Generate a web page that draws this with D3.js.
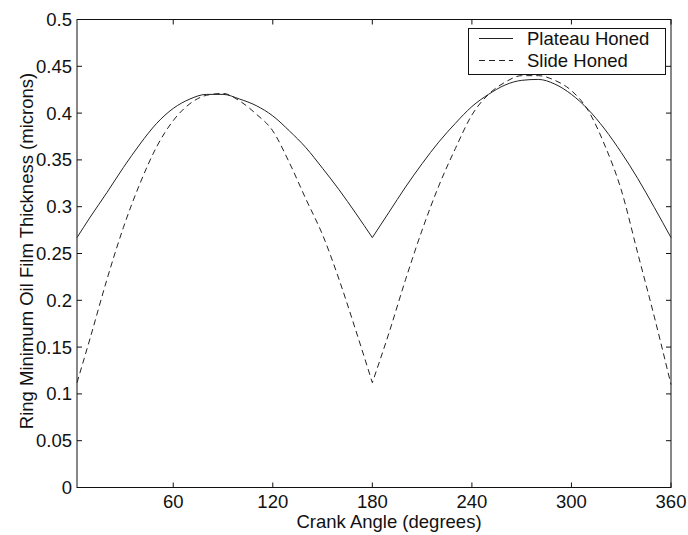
<!DOCTYPE html>
<html><head><meta charset="utf-8">
<script src="https://cdn.jsdelivr.net/npm/d3@7"></script>
<style>body{margin:0;background:#fff}svg{display:block}text{font-family:"Liberation Sans",Arial,sans-serif;fill:#111}</style>
</head><body><svg id="c" width="688" height="535"></svg>
<script>
const angles = [2,10,20,30,40,50,60,70,80,90,100,110,120,130,140,150,160,170,180,190,200,210,220,230,240,250,260,270,280,290,300,310,320,330,340,350,360];
const plateau = [0.267,0.289,0.315,0.342,0.367,0.389,0.405,0.415,0.42,0.42,0.415,0.408,0.397,0.381,0.363,0.341,0.318,0.293,0.267,0.294,0.321,0.346,0.369,0.389,0.407,0.42,0.43,0.435,0.436,0.431,0.42,0.404,0.383,0.358,0.33,0.299,0.267];
const slide = [0.112,0.16,0.222,0.278,0.325,0.364,0.392,0.41,0.419,0.421,0.413,0.399,0.381,0.347,0.308,0.27,0.222,0.168,0.112,0.165,0.222,0.275,0.322,0.362,0.398,0.42,0.433,0.44,0.44,0.435,0.424,0.403,0.366,0.318,0.25,0.182,0.11];
const xTicks = [60,120,180,240,300,360];
const yTicks = [0,0.05,0.1,0.15,0.2,0.25,0.3,0.35,0.4,0.45,0.5];
const seriesNames = ["Plateau Honed","Slide Honed"];

const L=77,R=671,T=19.5,B=487.5;
const svg=d3.select("#c");
const x=d3.scaleLinear().domain([2,360]).range([L,R]);
const y=d3.scaleLinear().domain([0,0.5]).range([B,T]);
const fs="18.5px";

// axes
const ax=svg.append("g").attr("stroke","#111").attr("stroke-width",1).attr("fill","none");
ax.append("rect").attr("x",L).attr("y",T).attr("width",R-L).attr("height",B-T);
xTicks.forEach(t=>{
  ax.append("line").attr("x1",x(t)).attr("x2",x(t)).attr("y1",B).attr("y2",B-5);
  ax.append("line").attr("x1",x(t)).attr("x2",x(t)).attr("y1",T).attr("y2",T+5);
});
yTicks.forEach(t=>{
  ax.append("line").attr("x1",L).attr("x2",L+5).attr("y1",y(t)).attr("y2",y(t));
  ax.append("line").attr("x1",R).attr("x2",R-5).attr("y1",y(t)).attr("y2",y(t));
});
svg.append("g").selectAll("text").data(xTicks).join("text")
  .attr("x",d=>x(d)).attr("y",508).attr("text-anchor","middle").style("font-size",fs).text(d=>d);
svg.append("g").selectAll("text").data(yTicks).join("text")
  .attr("x",72).attr("y",d=>y(d)+6.5).attr("text-anchor","end").style("font-size",fs).text(d=>String(d));

svg.append("text").attr("x",389).attr("y",528).attr("text-anchor","middle").style("font-size",fs).text("Crank Angle (degrees)");
svg.append("text").attr("transform","translate(33,251) rotate(-90)").attr("text-anchor","middle").style("font-size",fs).text("Ring Minimum Oil Film Thickness (microns)");

// lines: each half drawn separately so the cusp at 180 stays sharp
const line=d3.line().x(d=>x(d[0])).y(d=>y(d[1])).curve(d3.curveMonotoneX);
function halves(vals){
  const pts=angles.map((a,i)=>[a,vals[i]]);
  return [pts.filter(p=>p[0]<=180), pts.filter(p=>p[0]>=180)];
}
halves(plateau).forEach(h=>svg.append("path").datum(h).attr("d",line)
  .attr("fill","none").attr("stroke","#222").attr("stroke-width",1));
const sh=halves(slide);
svg.append("path").datum(sh[0].concat(sh[1].slice(1))).attr("d",d=>{
  return line(sh[0])+line(sh[1]).replace(/^M/,"L");
}).attr("fill","none").attr("stroke","#222").attr("stroke-width",1).attr("stroke-dasharray","6,4");

// legend
const lg=svg.append("g");
lg.append("rect").attr("x",468.5).attr("y",28.5).attr("width",197).attr("height",46).attr("fill","#fff").attr("stroke","#111");
[0,1].forEach(i=>{
  const yy=38.5+i*22;
  lg.append("line").attr("x1",479).attr("x2",513).attr("y1",yy).attr("y2",yy).attr("stroke","#222")
    .attr("stroke-dasharray",i?"6,4":null);
  lg.append("text").attr("x",527).attr("y",yy+6.5).style("font-size",fs).text(seriesNames[i]);
});
</script></body></html>
